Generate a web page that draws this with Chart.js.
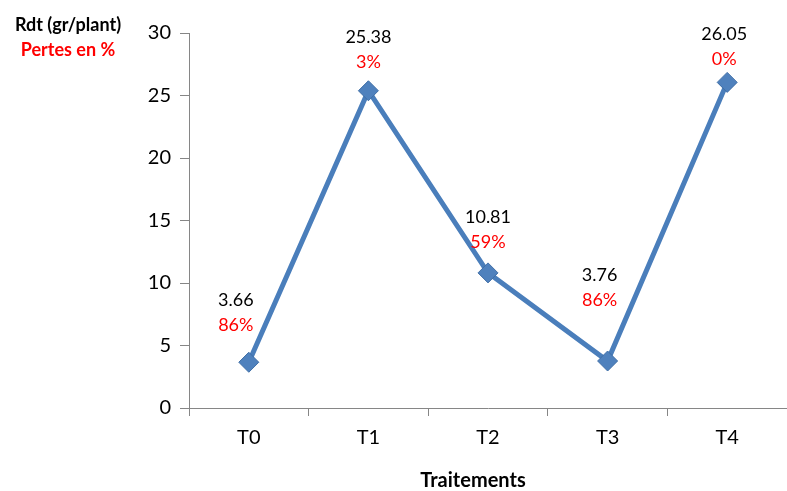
<!DOCTYPE html>
<html>
<head>
<meta charset="utf-8">
<script src="https://cdn.jsdelivr.net/npm/chart.js@4/dist/chart.umd.min.js"></script>
<style>
  html, body { margin: 0; padding: 0; background: #fff; }
  #wrap { width: 787px; height: 491px; }
</style>
</head>
<body>
<div id="wrap"><canvas id="myChart" width="787" height="491"></canvas></div>
<script>
const traitements = ['T0', 'T1', 'T2', 'T3', 'T4'];
const rendement = [3.66, 25.38, 10.81, 3.76, 26.05];
const pertes = ['86%', '3%', '59%', '86%', '0%'];
const yTicks = [0, 5, 10, 15, 20, 25, 30];

// how far the two-line label sits above / beside each marker
const labelLift = [37, 29, 31, 61, 23];
const labelShift = [-13, 0, 0, -8, -3];

const FONT = "Lato, 'Open Sans', sans-serif";
const AXIS_GREY = '#868686';

const pointLabels = {
    id: 'pointLabels',
    afterDatasetsDraw(chart) {
        const ctx = chart.ctx;
        const meta = chart.getDatasetMeta(0);
        ctx.save();
        ctx.textAlign = 'center';
        ctx.textBaseline = 'middle';
        ctx.font = '18px ' + FONT;
        meta.data.forEach((pt, i) => {
            const x = pt.x + labelShift[i];
            const y = pt.y - labelLift[i];
            ctx.fillStyle = '#ff0000';
            ctx.fillText(pertes[i], x, y);
            ctx.fillStyle = '#000000';
            ctx.fillText(rendement[i].toFixed(2), x, y - 25);
        });
        ctx.restore();
    }
};

const axisTitles = {
    id: 'axisTitles',
    afterDraw(chart) {
        const ctx = chart.ctx;
        ctx.save();
        ctx.textAlign = 'center';
        ctx.textBaseline = 'middle';
        ctx.font = 'bold 18px ' + FONT;
        ctx.fillStyle = '#000';
        ctx.fillText('Rdt (gr/plant)', 68, 25);
        ctx.fillStyle = '#ff0000';
        ctx.fillText('Pertes en %', 68, 50);
        ctx.fillStyle = '#000';
        ctx.font = 'bold 20px ' + FONT;
        ctx.fillText('Traitements', 473, 481);
        ctx.restore();
    }
};

const ctx = document.getElementById('myChart').getContext('2d');
new Chart(ctx, {
    type: 'line',
    data: {
        labels: traitements,
        datasets: [{
            data: rendement,
            borderColor: '#4A7EBB',
            borderWidth: 5,
            backgroundColor: '#4F81BD',
            pointStyle: 'rectRot',
            pointRadius: 10,
            pointHoverRadius: 10,
            pointBackgroundColor: '#4F81BD',
            pointBorderColor: '#3F6EA6',
            pointBorderWidth: 1,
            tension: 0,
            fill: false
        }]
    },
    options: {
        responsive: false,
        animation: false,
        devicePixelRatio: 1,
        layout: { autoPadding: false, padding: { top: 33, right: 0, left: 0, bottom: 0 } },
        plugins: {
            legend: { display: false },
            tooltip: { enabled: false }
        },
        scales: {
            x: {
                offset: true,
                grid: {
                    offset: true,
                    drawOnChartArea: false,
                    drawTicks: true,
                    tickLength: 8,
                    color: AXIS_GREY
                },
                border: { color: AXIS_GREY, width: 1 },
                ticks: {
                    color: '#000',
                    font: { family: FONT, size: 20 },
                    padding: 10
                },
                afterFit(scale) { scale.height = 83; }
            },
            y: {
                min: 0,
                max: 30,
                afterBuildTicks(scale) {
                    scale.ticks = yTicks.map(v => ({ value: v }));
                },
                grid: {
                    drawOnChartArea: false,
                    drawTicks: true,
                    tickLength: 9,
                    color: AXIS_GREY
                },
                border: { color: AXIS_GREY, width: 1 },
                ticks: {
                    color: '#000',
                    font: { family: FONT, size: 20 },
                    padding: 9
                },
                afterFit(scale) { scale.width = 189; }
            }
        }
    },
    plugins: [pointLabels, axisTitles]
});
</script>
</body>
</html>
